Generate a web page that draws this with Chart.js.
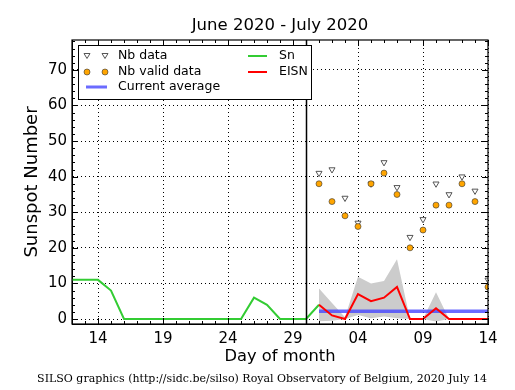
<!DOCTYPE html>
<html>
<head>
<meta charset="utf-8">
<script src="https://cdn.jsdelivr.net/npm/chart.js@4.4.0/dist/chart.umd.min.js"></script>
<style>
  html, body { margin: 0; padding: 0; background: #fff; }
</style>
</head>
<body>
<canvas id="sunspotChart" width="515" height="390"></canvas>
<script>
// day index: 0 = 12 June 2020 ... 32 = 14 July 2020
var snDays = [0, 1, 2, 3, 4, 5, 6, 7, 8, 9, 10, 11, 12, 13, 14, 15, 16, 17, 18, 19];
var snValues = [11, 11, 11, 8, 0, 0, 0, 0, 0, 0, 0, 0, 0, 0, 6, 4, 0, 0, 0, 4];

var julyDays = [19, 20, 21, 22, 23, 24, 25, 26, 27, 28, 29, 30, 31, 32];
var eisnValues = [4, 1, 0, 7, 5, 6, 9, 0, 0, 3, 0, 0, 0, 0];
var eisnUpper = [8.6, 4.5, 0.5, 11.9, 10, 10.7, 16.8, 0, 0, 7.5, 0, 0, 0, 0];
var eisnLower = [-0.6, -0.5, 0, 1.1, 0.2, 0.7, 0.2, 0, 0, -0.7, 0, 0, 0, 0];
var nbData = [41, 42, 34, 27, 38, 44, 37, 23, 28, 38, 35, 40, 36, 11];
var nbValid = [38, 33, 29, 26, 38, 41, 35, 20, 25, 32, 32, 38, 33, 9];
var currentAverage = 2.2;

var xTickPos = [2, 7, 12, 17, 22, 27, 32];
var xTickLabels = ["14", "19", "24", "29", "04", "09", "14"];
var yTickPos = [0, 10, 20, 30, 40, 50, 60, 70];
var monthBoundary = 18; // 30 June

function pts(xs, ys) {
  return xs.map(function (x, i) { return { x: x, y: ys[i] }; });
}

Chart.defaults.font.family = "DejaVu Sans";
Chart.defaults.color = "#000";

var decorations = {
  id: "decorations",
  afterDraw: function (chart) {
    var ctx = chart.ctx;
    var a = chart.chartArea;
    var xs = chart.scales.x, ys = chart.scales.y;
    var i, px, py;
    ctx.save();

    // month boundary
    px = Math.round(xs.getPixelForValue(monthBoundary)) + 0.5;
    ctx.strokeStyle = "#000";
    ctx.lineWidth = 1.5;
    ctx.beginPath();
    ctx.moveTo(px, a.top);
    ctx.lineTo(px, a.bottom);
    ctx.stroke();

    // frame
    ctx.lineWidth = 1.2;
    ctx.strokeRect(a.left, a.top, a.right - a.left, a.bottom - a.top);

    // inward ticks
    ctx.lineWidth = 1;
    ctx.beginPath();
    for (i = 0; i <= 32; i++) {
      px = Math.round(xs.getPixelForValue(i)) + 0.5;
      var lx = (i - 2) % 5 === 0 ? 6 : 3;
      ctx.moveTo(px, a.bottom); ctx.lineTo(px, a.bottom - lx);
      ctx.moveTo(px, a.top); ctx.lineTo(px, a.top + lx);
    }
    for (i = 0; i <= 78; i += 2) {
      py = Math.round(ys.getPixelForValue(i)) + 0.5;
      var ly = i % 10 === 0 ? 6 : 3;
      ctx.moveTo(a.left, py); ctx.lineTo(a.left + ly, py);
      ctx.moveTo(a.right, py); ctx.lineTo(a.right - ly, py);
    }
    ctx.stroke();

    // legend
    ctx.fillStyle = "#fff";
    ctx.fillRect(78, 45, 233, 54);
    ctx.strokeStyle = "#000";
    ctx.lineWidth = 1;
    ctx.strokeRect(78.5, 45.5, 233, 54);

    function tri(x, y) {
      ctx.beginPath();
      ctx.moveTo(x - 3, y - 2.5);
      ctx.lineTo(x + 3, y - 2.5);
      ctx.lineTo(x, y + 2.5);
      ctx.closePath();
      ctx.fillStyle = "#fff";
      ctx.fill();
      ctx.strokeStyle = "#555";
      ctx.stroke();
    }
    function dot(x, y) {
      ctx.beginPath();
      ctx.arc(x, y, 3, 0, Math.PI * 2);
      ctx.fillStyle = "#ffa500";
      ctx.fill();
      ctx.strokeStyle = "#333";
      ctx.lineWidth = 0.6;
      ctx.stroke();
      ctx.lineWidth = 1;
    }
    function seg(x1, x2, y, col, w) {
      ctx.beginPath();
      ctx.moveTo(x1, y); ctx.lineTo(x2, y);
      ctx.strokeStyle = col; ctx.lineWidth = w; ctx.stroke();
      ctx.lineWidth = 1;
    }
    tri(87, 56); tri(105, 56);
    dot(87, 72); dot(105, 72);
    seg(86, 107, 87, "rgba(70,70,255,0.8)", 3);
    seg(248, 267, 56, "#33cc33", 2);
    seg(248, 267, 72, "#ff0000", 2);

    ctx.fillStyle = "#000";
    ctx.font = "12.5px 'DejaVu Sans'";
    ctx.textAlign = "left";
    ctx.textBaseline = "middle";
    ctx.fillText("Nb data", 118, 56);
    ctx.fillText("Nb valid data", 118, 72);
    ctx.fillText("Current average", 118, 87);
    ctx.fillText("Sn", 279, 56);
    ctx.fillText("EISN", 279, 72);

    // titles
    ctx.textAlign = "center";
    ctx.font = "16.5px 'DejaVu Sans'";
    ctx.fillText("June 2020 - July 2020", (a.left + a.right) / 2, 26);
    ctx.font = "16.3px 'DejaVu Sans'";
    ctx.fillText("Day of month", (a.left + a.right) / 2, 357);
    ctx.save();
    ctx.translate(32, (a.top + a.bottom) / 2);
    ctx.rotate(-Math.PI / 2);
    ctx.font = "18px 'DejaVu Sans'";
    ctx.fillText("Sunspot Number", 0, 0);
    ctx.restore();

    ctx.font = "11px 'DejaVu Serif'";
    ctx.fillText("SILSO graphics (http://sidc.be/silso) Royal Observatory of Belgium, 2020 July 14", 262, 379);
    ctx.restore();
  }
};

new Chart(document.getElementById("sunspotChart"), {
  type: "line",
  data: {
    datasets: [
      {
        label: "Nb data",
        data: pts(julyDays, nbData),
        showLine: false,
        pointStyle: "triangle",
        rotation: 180,
        pointRadius: 3.5,
        pointBackgroundColor: "#fff",
        pointBorderColor: "#555",
        pointBorderWidth: 1,
        order: 1
      },
      {
        label: "Nb valid data",
        data: pts(julyDays, nbValid),
        showLine: false,
        pointStyle: "circle",
        pointRadius: 3,
        pointBackgroundColor: "#ffa500",
        pointBorderColor: "#333",
        pointBorderWidth: 0.6,
        order: 0
      },
      {
        label: "EISN",
        data: pts(julyDays, eisnValues),
        borderColor: "#ff0000",
        borderWidth: 2,
        pointRadius: 0,
        tension: 0,
        order: 2
      },
      {
        label: "Sn",
        data: pts(snDays, snValues),
        borderColor: "#33cc33",
        borderWidth: 2,
        pointRadius: 0,
        tension: 0,
        order: 3
      },
      {
        label: "Current average",
        data: [{ x: julyDays[0], y: currentAverage }, { x: julyDays[julyDays.length - 1], y: currentAverage }],
        borderColor: "rgba(70,70,255,0.8)",
        borderWidth: 3.5,
        pointRadius: 0,
        order: 4
      },
      {
        label: "upper",
        data: pts(julyDays, eisnUpper),
        borderWidth: 0,
        borderColor: "rgba(0,0,0,0)",
        backgroundColor: "#cccccc",
        pointRadius: 0,
        fill: "+1",
        order: 5
      },
      {
        label: "lower",
        data: pts(julyDays, eisnLower),
        borderWidth: 0,
        borderColor: "rgba(0,0,0,0)",
        pointRadius: 0,
        fill: false,
        order: 6
      }
    ]
  },
  options: {
    responsive: false,
    animation: false,
    layout: { padding: { left: 0, top: 40, right: 27, bottom: 0 } },
    plugins: {
      legend: { display: false },
      title: { display: false },
      tooltip: { enabled: false }
    },
    scales: {
      x: {
        type: "linear",
        min: 0,
        max: 32,
        afterBuildTicks: function (s) { s.ticks = xTickPos.map(function (v) { return { value: v }; }); },
        afterFit: function (s) { s.height = 66; },
        ticks: {
          autoSkip: false,
          maxRotation: 0,
          padding: 6,
          font: { size: 15 },
          callback: function (v, i) { return xTickLabels[i]; }
        },
        grid: { color: "#000", lineWidth: 1, drawTicks: false },
        border: { display: true, color: "#000", width: 1, dash: [1, 3] }
      },
      y: {
        type: "linear",
        min: -1.4,
        max: 78.4,
        afterBuildTicks: function (s) { s.ticks = yTickPos.map(function (v) { return { value: v }; }); },
        afterFit: function (s) { s.width = 72; },
        ticks: {
          padding: 5,
          font: { size: 15 },
          callback: function (v) { return String(v); }
        },
        grid: { color: "#000", lineWidth: 1, drawTicks: false },
        border: { display: true, color: "#000", width: 1, dash: [1, 3] }
      }
    }
  },
  plugins: [decorations]
});
</script>
</body>
</html>
